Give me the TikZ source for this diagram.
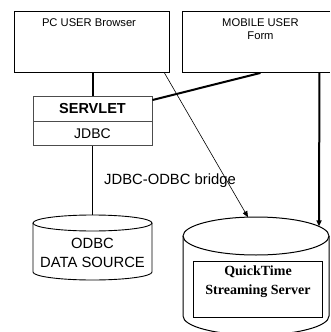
\documentclass[tikz,border=0pt]{standalone}
\usepackage{fontspec}
\setmainfont{Liberation Sans}
\newfontfamily\timesfont{Liberation Serif}
\usetikzlibrary{arrows.meta,calc}

\tikzset{
  box/.style={draw, line width=0.9pt, inner sep=0pt},
  layerbox/.style={draw=black!70, line width=0.9pt, inner sep=0pt,
    minimum width=119pt, minimum height=24.5pt},
  heavy/.style={line width=2pt},
  tip/.style={-{Triangle[length=6pt,width=5pt]}},
  small/.style={font=\fontsize{11.2}{12.5}\selectfont},
  big/.style={font=\fontsize{14.8}{19}\selectfont},
}

\begin{document}
\begin{tikzpicture}[x=1pt,y=-1pt]
\useasboundingbox (0,0) rectangle (330,332);

% user boxes (the mobile one runs off the right edge)
\node[box, minimum width=155pt, minimum height=61pt] (pc) at (91.5,42) {};
\node[small] (pctext) at (89,23) {PC USER Browser};
\node[inner sep=0pt, minimum width=147pt, minimum height=61pt] (mobile) at (256.5,42) {};
\draw[line width=0.9pt] (mobile.north east) -- (mobile.north west)
  -- (mobile.south west) -- (mobile.south east);
\node[small, align=center] (mobiletext) at (260.5,29) {MOBILE USER\\Form};

% servlet with jdbc layer
\node[layerbox, font=\bfseries\fontsize{14.5}{15}\selectfont] (servlet) at (92.5,109) {SERVLET};
\node[layerbox, font=\fontsize{14}{15}\selectfont] (jdbc) at (92.5,133.5) {JDBC};

% odbc data source
\draw[line width=0.9pt] (33,223) -- (33,272)
  arc[start angle=180, end angle=0, x radius=59.5, y radius=8] -- (152,223);
\draw[line width=0.9pt] (92.5,223) ellipse [x radius=59.5, y radius=8];
\coordinate (odbctop) at (92.5,215);
\node[big, align=center] (odbc) at (92.5,252.5) {ODBC\\DATA SOURCE};

% streaming server
\draw[line width=1pt] (183,236) -- (183,316)
  arc[start angle=180, end angle=0, x radius=73, y radius=19] -- (329,236);
\draw[line width=1pt] (256,236) ellipse [x radius=73, y radius=19];
\coordinate (qtin) at (248,217.2);
\coordinate (qtside) at (319,226.4);
\node[box, minimum width=129pt, minimum height=56pt] (qtbox) at (257.5,289) {};
\node[align=center, font=\timesfont\bfseries\fontsize{14}{19}\selectfont] (qttext) at (258,282) {QuickTime\\Streaming Server};

% connections
\draw[heavy] (servlet.north) -- (servlet.north |- pc.south);
\draw[heavy] ($(pc.south east)+(91,0)$) -- ($(servlet.east)+(0,-9)$);
\draw[line width=0.6pt, tip] ($(pc.south east)+(-5,0)$) -- (qtin);
\draw[heavy, tip] ($(pc.south east)+(150,0)$) -- (qtside);
\draw[line width=1.5pt] (jdbc.south) -- (odbctop);
\node[big] (bridge) at (170,181) {JDBC-ODBC bridge};
\end{tikzpicture}
\end{document}
